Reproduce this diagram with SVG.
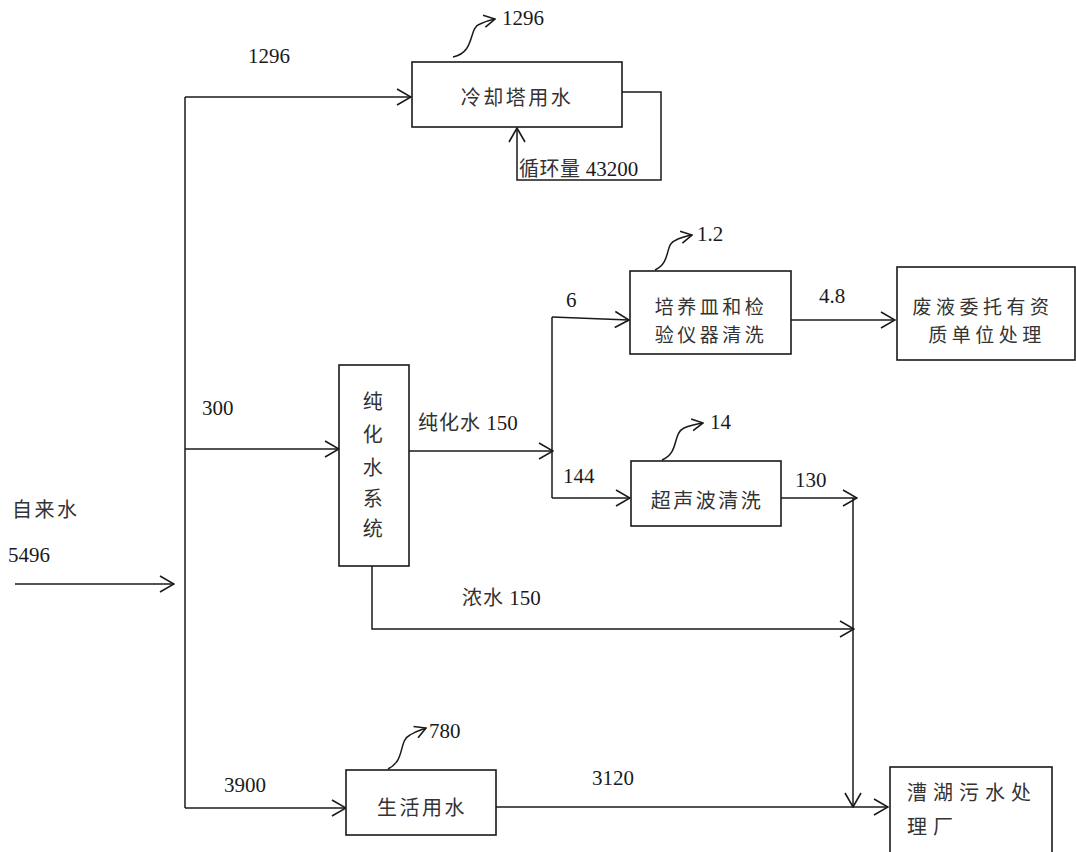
<svg xmlns="http://www.w3.org/2000/svg" width="1076" height="852" viewBox="0 0 1076 852">
<style>
.ln{fill:none;stroke:#1a1a1a;stroke-width:1.5}
.box{fill:#fff;stroke:#1a1a1a;stroke-width:1.6}
text{font-family:"Liberation Serif","DejaVu Serif","Noto Sans CJK SC",serif;font-size:21px;fill:#1a1a1a}
.cj{font-family:"Noto Sans CJK SC",sans-serif;font-size:20px;fill:#333;letter-spacing:2.5px}
.c2{font-size:19px;letter-spacing:3.5px}
.mid{text-anchor:middle}
</style>
<defs>
<marker id="ar" markerUnits="userSpaceOnUse" markerWidth="16" markerHeight="18" viewBox="0 0 16 18" refX="15" refY="9" orient="auto">
<path d="M1,1 L15,9 L1,17" fill="none" stroke="#1a1a1a" stroke-width="1.6"/>
</marker>
<marker id="as" markerUnits="userSpaceOnUse" markerWidth="13" markerHeight="14" viewBox="0 0 13 14" refX="12" refY="7" orient="auto">
<path d="M1,1 L12,7 L1,13" fill="none" stroke="#1a1a1a" stroke-width="1.6"/>
</marker>
</defs>

<g id="connectors">
<path class="ln" d="M15,584 L174,584" marker-end="url(#ar)"/>
<path class="ln" d="M185,97 L185,808"/>
<path class="ln" d="M185,97 L411,97" marker-end="url(#ar)"/>
<path class="ln" d="M622,92 L661,92 L661,180 L517,180 L517,128" marker-end="url(#ar)"/>
<path class="ln" d="M185,449 L339,449" marker-end="url(#ar)"/>
<path class="ln" d="M409,451 L553,451" marker-end="url(#ar)"/>
<path class="ln" d="M552,317 L552,498"/>
<path class="ln" d="M552,317 L629,320" marker-end="url(#ar)"/>
<path class="ln" d="M552,498 L630,498" marker-end="url(#ar)"/>
<path class="ln" d="M791,320 L895,320" marker-end="url(#ar)"/>
<path class="ln" d="M781,498 L857,498" marker-end="url(#ar)"/>
<path class="ln" d="M853,498 L853,807" marker-end="url(#ar)"/>
<path class="ln" d="M372,566 L372,629 L854,629" marker-end="url(#ar)"/>
<path class="ln" d="M185,808 L346,808" marker-end="url(#ar)"/>
<path class="ln" d="M496,807 L888,807" marker-end="url(#ar)"/>
<path class="ln" d="M453,57 C476,52 468,28 480,24 C486,21 490,20 495,19" marker-end="url(#as)"/>
<path class="ln" d="M655,270 C672,262 664,244 676,240 C682,237 687,236 692,235" marker-end="url(#as)"/>
<path class="ln" d="M662,460 C680,452 672,434 684,428 C691,425 697,424 703,423" marker-end="url(#as)"/>
<path class="ln" d="M388,769 C406,760 398,741 410,735 C416,731 421,730 426,728" marker-end="url(#as)"/>
</g>

<g id="labels">
<text x="12" y="517" class="cj">自来水</text>
<text x="8" y="562">5496</text>
<text x="248" y="63">1296</text>
<text x="502" y="25">1296</text>
<text x="202" y="415">300</text>
<text x="418" y="430"><tspan class="cj" style="letter-spacing:1px">纯化水</tspan> 150</text>
<text x="566" y="307">6</text>
<text x="697" y="241">1.2</text>
<text x="819" y="303">4.8</text>
<text x="563" y="483">144</text>
<text x="710" y="429">14</text>
<text x="795" y="487">130</text>
<text x="462" y="605"><tspan class="cj" style="letter-spacing:1px">浓水</tspan> 150</text>
<text x="224" y="792">3900</text>
<text x="429" y="738">780</text>
<text x="592" y="785">3120</text>
</g>

<g id="cooling">
<rect class="box" x="412" y="62" width="210" height="65"/>
<text x="517" y="105" class="cj mid">冷却塔用水</text>
<text x="519" y="176"><tspan class="cj" style="letter-spacing:0.5px">循环量</tspan> 43200</text>
</g>

<g id="purifier">
<rect class="box" x="339" y="365" width="70" height="201"/>
<text x="374" y="409" class="cj mid">纯</text>
<text x="374" y="442" class="cj mid">化</text>
<text x="374" y="475" class="cj mid">水</text>
<text x="374" y="506" class="cj mid">系</text>
<text x="374" y="536" class="cj mid">统</text>
</g>

<g id="culture">
<rect class="box" x="630" y="271" width="161" height="83"/>
<text x="711" y="314" class="cj c2 mid">培养皿和检</text>
<text x="711" y="342" class="cj c2 mid">验仪器清洗</text>
</g>

<g id="waste">
<rect class="box" x="897" y="267" width="178" height="93"/>
<text x="983" y="314" class="cj c2 mid" style="letter-spacing:4.5px">废液委托有资</text>
<text x="987" y="342" class="cj c2 mid" style="letter-spacing:4.5px">质单位处理</text>
</g>

<g id="ultrasonic">
<rect class="box" x="631" y="461" width="150" height="65"/>
<text x="707" y="508" class="cj mid">超声波清洗</text>
</g>

<g id="domestic">
<rect class="box" x="346" y="770" width="150" height="65"/>
<text x="422" y="815" class="cj mid">生活用水</text>
</g>

<g id="wwtp">
<rect class="box" x="890" y="767" width="162" height="95"/>
<text x="907" y="800" class="cj" style="letter-spacing:6px">漕湖污水处</text>
<text x="907" y="834" class="cj" style="letter-spacing:6px">理厂</text>
</g>
</svg>
